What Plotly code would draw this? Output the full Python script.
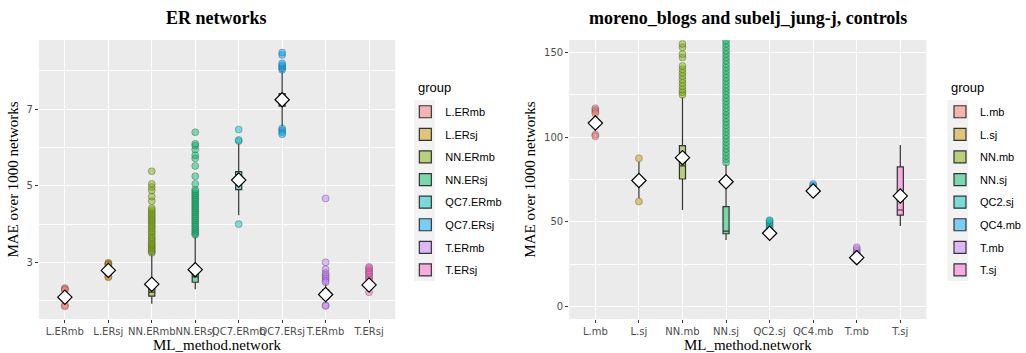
import plotly.graph_objects as go
from plotly.subplots import make_subplots

colors = ["#F8766D", "#CD9600", "#7CAE00", "#00BE67", "#00BFC4", "#00A9FF", "#C77CFF", "#FF61CC"]

# ---- left panel: ER networks ----
left_groups = ["L.ERmb", "L.ERsj", "NN.ERmb", "NN.ERsj", "QC7.ERmb", "QC7.ERsj", "T.ERmb", "T.ERsj"]
left_q1 = [2.03, 2.74, 2.12, 2.48, 4.90, 7.08, 2.05, 2.35]
left_median = [2.08, 2.78, 2.22, 2.62, 5.10, 7.25, 2.15, 2.40]
left_q3 = [2.13, 2.82, 2.50, 2.84, 5.37, 7.41, 2.28, 2.47]
left_lower = [1.95, 2.68, 1.92, 2.30, 4.23, 6.55, 1.95, 2.25]
left_upper = [2.22, 2.90, 3.22, 3.68, 6.10, 8.00, 2.45, 2.50]
left_mean = [2.09, 2.79, 2.43, 2.81, 5.15, 7.25, 2.16, 2.41]
left_outliers = [
    [2.33, 2.30, 2.28, 1.88, 1.85],
    [2.99, 2.97, 2.95, 2.93, 2.63, 2.61],
    [3.25, 3.28, 3.32, 3.36, 3.40, 3.44, 3.48, 3.52, 3.57, 3.62, 3.66, 3.72, 3.78, 3.82,
     3.88, 3.93, 3.98, 4.03, 4.08, 4.12, 4.17, 4.22, 4.27, 4.32, 4.37, 4.42, 4.60, 4.72,
     4.88, 4.97, 5.05, 5.38],
    [3.72, 3.76, 3.80, 3.85, 3.90, 3.95, 4.00, 4.05, 4.10, 4.15, 4.20, 4.25, 4.30, 4.35,
     4.40, 4.45, 4.50, 4.55, 4.60, 4.65, 4.70, 4.75, 4.80, 4.85, 4.90, 5.05, 5.25, 5.52,
     5.72, 5.80, 5.95, 6.05, 6.10, 6.40],
    [6.17, 6.20, 6.47, 4.00],
    [8.03, 8.07, 8.11, 8.15, 8.20, 8.42, 8.48, 6.50, 6.45, 6.40, 6.35],
    [4.67, 3.00, 2.82, 2.72, 2.67, 2.62, 2.57, 2.52, 2.48, 1.88, 1.86],
    [2.88, 2.85, 2.80, 2.76, 2.72, 2.68, 2.63, 2.59, 2.55, 2.22],
]
left_ticks = [3, 5, 7]
left_minor = [2, 4, 6, 8]

# ---- right panel: moreno_blogs and subelj_jung-j ----
right_groups = ["L.mb", "L.sj", "NN.mb", "NN.sj", "QC2.sj", "QC4.mb", "T.mb", "T.sj"]
right_q1 = [106, 72, 75.3, 43, 42.5, 67.5, 28.5, 54]
right_median = [108, 74, 83, 44.6, 43.5, 68.3, 29, 57]
right_q3 = [110, 76.5, 95, 59, 44.5, 69, 29.5, 82.5]
right_lower = [103.5, 64, 57, 39.3, 41.5, 67, 28, 47.6]
right_upper = [113, 85.5, 123.5, 84, 45.5, 69.5, 30, 95.3]
right_mean = [108.3, 74.4, 87.9, 73.7, 43.3, 68.2, 28.9, 65.3]
right_outliers = [
    [117, 116, 115, 114, 101.5, 100.5],
    [87.5, 62],
    [125, 126.5, 128, 130, 132, 134, 136, 138, 140, 142, 147, 149, 153, 155],
    [85, 87, 89, 91, 93, 95, 97, 99, 101, 103, 105, 107, 109, 111, 113, 115, 117, 119,
     121, 123, 125, 127, 129, 131, 133, 135, 137, 139, 141, 143, 145, 147, 149, 151,
     153, 155, 157],
    [46.5, 47.5, 48.5, 49.5, 50.5, 51],
    [70.5, 71.5, 72.3],
    [31, 32, 33, 34, 35],
    [],
]
right_ticks = [0, 50, 100, 150]
right_minor = [25, 75, 125]


def rgba(hexc, a):
    h = hexc.lstrip("#")
    r, g, b = int(h[0:2], 16), int(h[2:4], 16), int(h[4:6], 16)
    return f"rgba({r},{g},{b},{a})"


fig = make_subplots(rows=1, cols=2)


def add_panel(col, groups, q1, med, q3, lo, hi, mean, outl, legend):
    for i, g in enumerate(groups):
        fig.add_trace(go.Box(
            x=[g], q1=[q1[i]], median=[med[i]], q3=[q3[i]],
            lowerfence=[lo[i]], upperfence=[hi[i]],
            name=g, legend=legend, legendgroup=legend + g,
            fillcolor=rgba(colors[i], 0.5),
            line=dict(color="#333333", width=1.2),
            whiskerwidth=0, width=0.14, boxpoints=False,
            hoverinfo="skip",
        ), row=1, col=col)
    for i, g in enumerate(groups):
        if outl[i]:
            fig.add_trace(go.Scatter(
                x=[g] * len(outl[i]), y=outl[i], mode="markers",
                marker=dict(size=7, color=rgba(colors[i], 0.5),
                            line=dict(color="rgba(70,70,70,0.45)", width=0.8)),
                showlegend=False, hoverinfo="skip",
            ), row=1, col=col)
    fig.add_trace(go.Scatter(
        x=groups, y=mean, mode="markers",
        marker=dict(symbol="diamond", size=11, color="white",
                    line=dict(color="black", width=1.2)),
        showlegend=False, hoverinfo="skip",
    ), row=1, col=col)


add_panel(1, left_groups, left_q1, left_median, left_q3, left_lower, left_upper,
          left_mean, left_outliers, "legend")
add_panel(2, right_groups, right_q1, right_median, right_q3, right_lower, right_upper,
          right_mean, right_outliers, "legend2")

tick_font = dict(family="DejaVu Sans", size=10, color="#4D4D4D")
title_font = dict(family="Liberation Serif", size=15, color="black")

common_x = dict(showgrid=True, gridcolor="white", gridwidth=1.2, ticks="outside",
                ticklen=3, tickcolor="#333333", tickfont=tick_font, tickangle=0,
                showline=False, zeroline=False,
                title=dict(text="ML_method.network", font=title_font, standoff=1))
fig.update_xaxes(**common_x)
fig.update_xaxes(domain=[0.038, 0.387], categoryorder="array", categoryarray=left_groups,
                 range=[-0.6, 7.6], row=1, col=1)
fig.update_xaxes(domain=[0.5575, 0.9074], categoryorder="array", categoryarray=right_groups,
                 range=[-0.6, 7.6], row=1, col=2)

common_y = dict(showgrid=True, gridcolor="white", gridwidth=1.2, ticks="outside",
                ticklen=3, tickcolor="#333333", tickfont=tick_font, zeroline=False,
                showline=False, domain=[0.0963, 0.8867],
                title=dict(text="MAE over 1000 networks", font=title_font, standoff=4))
fig.update_yaxes(**common_y)
fig.update_yaxes(range=[1.52, 8.81], tickvals=left_ticks,
                 minor=dict(tickvals=left_minor, showgrid=True, gridcolor="white",
                            gridwidth=0.6, ticks=""), row=1, col=1)
fig.update_yaxes(range=[-7.3, 157.3], tickvals=right_ticks,
                 minor=dict(tickvals=right_minor, showgrid=True, gridcolor="white",
                            gridwidth=0.6, ticks=""), row=1, col=2)

leg_common = dict(
    bgcolor="rgba(0,0,0,0)", font=dict(family="Liberation Sans", size=11, color="black"),
    yanchor="top", xanchor="left", tracegroupgap=3.6, itemwidth=30,
)
legend_title_font = dict(family="Liberation Sans", size=13, color="black")

fig.update_layout(
    width=1026, height=353,
    margin=dict(l=0, r=0, t=0, b=0),
    paper_bgcolor="white", plot_bgcolor="#EBEBEB",
    legend=dict(x=0.397, y=0.7245, **leg_common),
    legend2=dict(x=0.921, y=0.7245, **leg_common),
    shapes=[
        dict(type="rect", xref="paper", yref="paper", x0=0.4055, x1=0.4259,
             y0=0.204, y1=0.7167, fillcolor="#F2F2F2", line=dict(width=0), layer="below"),
        dict(type="rect", xref="paper", yref="paper", x0=0.9279, x1=0.9483,
             y0=0.204, y1=0.7167, fillcolor="#F2F2F2", line=dict(width=0), layer="below"),
    ],
    annotations=[
        dict(text="<b>ER networks</b>", x=0.2125, y=0.95, xref="paper", yref="paper",
             xanchor="center", yanchor="middle", showarrow=False,
             font=dict(family="Liberation Serif", size=18, color="black")),
        dict(text="<b>moreno_blogs and subelj_jung-j, controls</b>", x=0.7325, y=0.95,
             xref="paper", yref="paper", xanchor="center", yanchor="middle",
             showarrow=False,
             font=dict(family="Liberation Serif", size=18, color="black")),
        dict(text="group", x=0.4075, y=0.753, xref="paper", yref="paper",
             xanchor="left", yanchor="middle", showarrow=False, font=legend_title_font),
        dict(text="group", x=0.929, y=0.753, xref="paper", yref="paper",
             xanchor="left", yanchor="middle", showarrow=False, font=legend_title_font),
    ],
)

fig.write_html("out.html")
